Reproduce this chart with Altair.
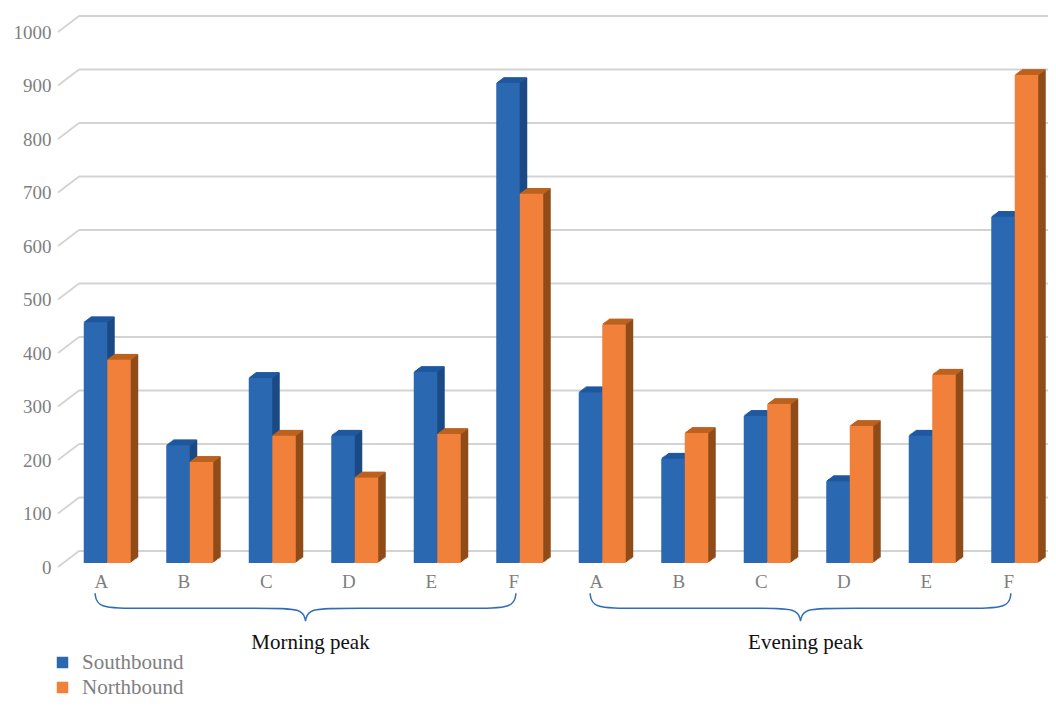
import altair as alt
import pandas as pd

# ---------------- data ----------------
cats = ["A", "B", "C", "D", "E", "F"]
groups = ["Morning peak", "Evening peak"]
south_morning = [450, 220, 346, 238, 357, 897]
north_morning = [380, 189, 238, 160, 241, 690]
south_evening = [319, 195, 275, 153, 238, 647]
north_evening = [446, 243, 297, 256, 352, 912]
grid_values = [0, 100, 200, 300, 400, 500, 600, 700, 800, 900, 1000]

keys = [f"{g[0]}-{c}" for g in groups for c in cats]
df_s = pd.DataFrame({"key": keys, "val": south_morning + south_evening, "series": "Southbound"})
df_n = pd.DataFrame({"key": keys, "val": north_morning + north_evening, "series": "Northbound"})
grid_df = pd.DataFrame({"v": grid_values})

# ---------------- style ----------------
W, H = 990, 535
FONT = "Liberation Serif"
GRAY = "#7f7f7f"
GRID = "#d3d3d3"
BRACE = "#2f6db5"
BAR_W = 23.5
PAIR_SHIFT = 8
DEPTH_X, DEPTH_Y = 7.5, 5.5
BAR_LIFT = -4
N = 6
WALL_DX, WALL_DY = 21, -16

BLUE = {"front": "#2a68b1", "side": "#1b4a84", "top": "#2058a0"}
ORANGE = {"front": "#f0803a", "side": "#8f4c18", "top": "#bd621f"}

y_scale = alt.Scale(domain=[0, 1000], nice=False, zero=True)
y_axis = alt.Axis(values=grid_values, format="d", grid=False, domain=False, ticks=False, title=None,
                  labelFont=FONT, labelFontSize=19, labelColor=GRAY, labelPadding=7)
x_axis = alt.Axis(title=None, domain=False, ticks=False, grid=False, labelAngle=0,
                  labelExpr="substring(datum.value, 2)", labelFont=FONT, labelFontSize=19,
                  labelColor=GRAY, labelPadding=5, labelOffset=2)
x_enc = alt.X("key:N", sort=keys, scale=alt.Scale(domain=keys, paddingInner=0, paddingOuter=0), axis=x_axis)
y_enc = alt.Y("val:Q", scale=y_scale, axis=y_axis, stack=None)
y2_enc = alt.datum(0)

color_enc = alt.Color(
    "series:N",
    scale=alt.Scale(domain=["Southbound", "Northbound"], range=[BLUE["front"], ORANGE["front"]]),
    legend=alt.Legend(title=None, orient="none", legendX=-6, legendY=620, direction="vertical",
                      symbolType="square", symbolSize=132, symbolStrokeWidth=0,
                      labelFont=FONT, labelFontSize=21, labelColor=GRAY, labelOffset=9,
                      rowPadding=3, padding=0),
)

# ---------------- gridlines (back wall + slanted floor edge) ----------------
back = alt.Chart(grid_df).mark_rule(color=GRID, strokeWidth=1.8, yOffset=WALL_DY).encode(
    y=alt.Y("v:Q", scale=y_scale, axis=y_axis), x=alt.value(WALL_DX), x2=alt.value(W + 40))
slant = alt.Chart(grid_df).mark_rule(color=GRID, strokeWidth=1.8, y2Offset=WALL_DY).encode(
    y=alt.Y("v:Q", scale=y_scale, axis=y_axis), y2=alt.Y2("v"), x=alt.value(0), x2=alt.value(WALL_DX))
grid_layer = alt.layer(back, slant)


# ---------------- pseudo-3D bars ----------------
def series_layers(df, pal, base):
    layers = []
    for k in range(N, 0, -1):
        dx = DEPTH_X * k / N
        dy = -DEPTH_Y * k / N
        layers.append(alt.Chart(df).mark_bar(width=BAR_W, color=pal["side"], xOffset=base + dx,
                                             yOffset=BAR_LIFT + dy, y2Offset=BAR_LIFT + dy)
                      .encode(x=x_enc, y=y_enc, y2=y2_enc))
    h = DEPTH_Y / N
    for k in range(N, 0, -1):
        dx = DEPTH_X * (k - 0.5) / N
        cy = BAR_LIFT - (k - 0.5) * h
        layers.append(alt.Chart(df).mark_tick(orient="horizontal", thickness=h + 0.6, size=BAR_W,
                                              color=pal["top"], opacity=1, xOffset=base + dx, yOffset=cy)
                      .encode(x=x_enc, y=y_enc))
    layers.append(alt.Chart(df).mark_bar(width=BAR_W, xOffset=base, yOffset=BAR_LIFT, y2Offset=BAR_LIFT)
                  .encode(x=x_enc, y=y_enc, y2=y2_enc, color=color_enc))
    return layers


bars_layer = alt.layer(*(series_layers(df_s, BLUE, PAIR_SHIFT - BAR_W / 2) +
                         series_layers(df_n, ORANGE, PAIR_SHIFT + BAR_W / 2)))

# ---------------- braces + group labels ----------------
BR_TOP, BR_MID, BR_TIP = -49, -77, -101
rows = []
for gi, g in enumerate(groups):
    a = gi * 6 - 0.05
    b = gi * 6 + 5 + 0.05
    m = gi * 6 + 2.5
    pts = [(a, BR_TOP), (a + 0.02, BR_MID), (a + 0.5, BR_MID), (m - 0.5, BR_MID), (m - 0.03, BR_MID),
           (m, BR_TIP), (m, BR_TIP), (m, BR_TIP),
           (m + 0.03, BR_MID), (m + 0.5, BR_MID), (b - 0.5, BR_MID), (b - 0.02, BR_MID), (b, BR_TOP)]
    for i, (px, py) in enumerate(pts):
        rows.append({"g": g, "i": i, "bx": px, "by": py})
brace_df = pd.DataFrame(rows)
label_df = pd.DataFrame({"g": groups, "cx": [2.5, 8.5]})

bx_scale = alt.Scale(domain=[-0.5, 11.5], nice=False, zero=False)
brace = alt.Chart(brace_df).mark_line(interpolate="basis", color=BRACE, strokeWidth=1.5).encode(
    x=alt.X("bx:Q", scale=bx_scale, axis=None),
    y=alt.Y("by:Q", scale=y_scale, axis=y_axis),
    detail="g:N", order="i:Q")
glabels = alt.Chart(label_df).mark_text(font=FONT, fontSize=21, color="#111111", dx=5, baseline="middle").encode(
    x=alt.X("cx:Q", scale=bx_scale, axis=None), y=alt.value(611), text="g:N")
annot_layer = alt.layer(brace, glabels)

chart = (
    alt.layer(grid_layer, bars_layer, annot_layer)
    .resolve_scale(x="independent")
    .properties(width=W, height=H, padding={"left": 50, "top": 24, "right": 0, "bottom": 131},
                autosize=alt.AutoSizeParams(type="none"))
    .configure_view(stroke=None)
)

chart.save("out.html", embed_options={"renderer": "svg", "actions": False})
